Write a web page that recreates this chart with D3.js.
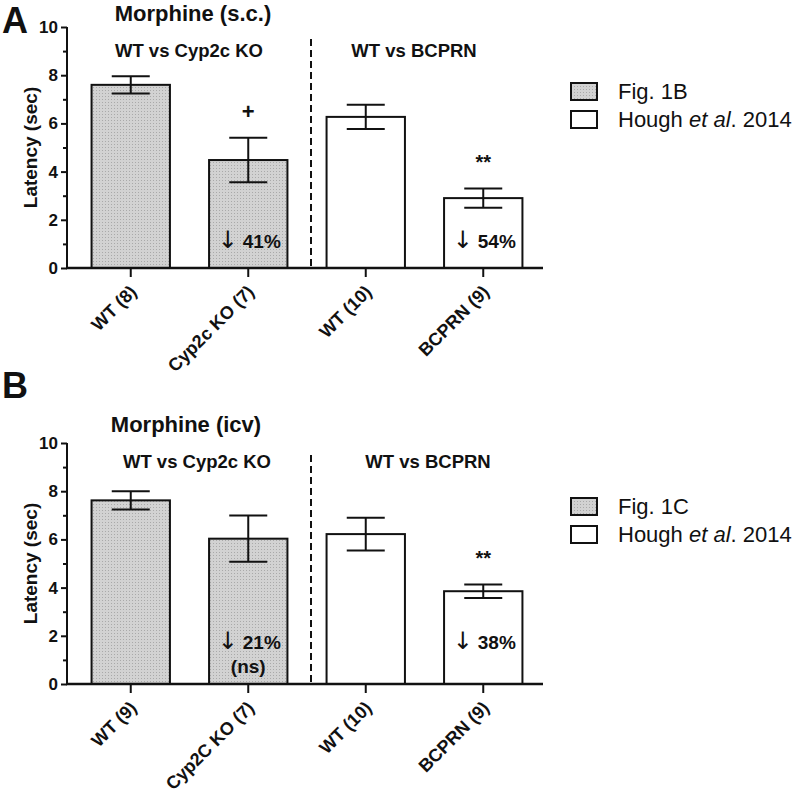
<!DOCTYPE html>
<html>
<head>
<meta charset="utf-8">
<script src="https://cdn.jsdelivr.net/npm/d3@7"></script>
<style>
  body { margin: 0; background: #fff; }
  svg { font-family: "Liberation Sans", Arial, sans-serif; }
  text { fill: #111; }
</style>
</head>
<body>
<svg id="chart" width="800" height="790"></svg>
<script>
// ---- data ----
const groupsA = ["WT (8)", "Cyp2c KO (7)", "WT (10)", "BCPRN (9)"];
const meansA = [7.6, 4.48, 6.27, 2.9];
const semA = [0.36, 0.92, 0.5, 0.4];
const notesA = ["", "+", "", "**"];
const dropsA = ["", "41%", "", "54%"];

const groupsB = ["WT (9)", "Cyp2C KO (7)", "WT (10)", "BCPRN (9)"];
const meansB = [7.62, 6.03, 6.22, 3.85];
const semB = [0.38, 0.96, 0.68, 0.28];
const notesB = ["", "", "", "**"];
const dropsB = ["", "21%", "", "38%"];

const source = ["fig", "fig", "hough", "hough"];   // fill per bar
const yTicks = [0, 2, 4, 6, 8, 10];
const yMinor = [1, 3, 5, 7, 9];

const svg = d3.select("#chart");

// stippled grey fill like the original
const pat = svg.append("defs").append("pattern")
  .attr("id", "stip").attr("width", 3).attr("height", 3)
  .attr("patternUnits", "userSpaceOnUse");
pat.append("rect").attr("width", 3).attr("height", 3).attr("fill", "#d2d2d2");
pat.append("rect").attr("width", 1).attr("height", 1).attr("fill", "#a9a9a9");

function fillOf(s) { return s === "fig" ? "url(#stip)" : "#fff"; }

function drawPanel(p) {
  const g = svg.append("g");
  const x = d3.scaleBand().domain(p.groups).range([72, 542])
    .paddingInner(0.333).paddingOuter(0.1665);
  const y = d3.scaleLinear().domain([0, 10]).range([p.y0, p.y0 - 241]);
  const cx = k => x(k) + x.bandwidth() / 2;
  const data = p.groups.map((k, i) => ({ k, m: p.means[i], e: p.sem[i], s: source[i], note: p.notes[i], drop: p.drops[i] }));

  // panel letter + title
  g.append("text").attr("x", 2).attr("y", p.letterY)
    .attr("font-size", 36).attr("font-weight", "bold").text(p.letter);
  g.append("text").attr("x", p.titleX).attr("y", p.titleY).attr("text-anchor", "middle")
    .attr("font-size", 22).attr("font-weight", "bold").text(p.title);

  // bars
  g.selectAll("rect.bar").data(data).join("rect")
    .attr("class", "bar")
    .attr("x", d => x(d.k)).attr("width", x.bandwidth())
    .attr("y", d => y(d.m)).attr("height", d => y(0) - y(d.m))
    .attr("fill", d => fillOf(d.s))
    .attr("stroke", "#111").attr("stroke-width", 2);

  // error bars
  const cap = 19;
  const eb = g.selectAll("g.err").data(data).join("g").attr("class", "err")
    .attr("stroke", "#111").attr("stroke-width", 2);
  eb.append("line")
    .attr("x1", d => cx(d.k)).attr("x2", d => cx(d.k))
    .attr("y1", d => y(d.m - d.e)).attr("y2", d => y(d.m + d.e));
  eb.append("line")
    .attr("x1", d => cx(d.k) - cap).attr("x2", d => cx(d.k) + cap)
    .attr("y1", d => y(d.m + d.e)).attr("y2", d => y(d.m + d.e));
  eb.append("line")
    .attr("x1", d => cx(d.k) - cap).attr("x2", d => cx(d.k) + cap)
    .attr("y1", d => y(d.m - d.e)).attr("y2", d => y(d.m - d.e));

  // significance marks
  g.selectAll("text.note").data(data.filter(d => d.note)).join("text")
    .attr("class", "note")
    .attr("x", d => cx(d.k))
    .attr("y", d => y(d.m + d.e) - 19)
    .attr("text-anchor", "middle").attr("font-weight", "bold")
    .attr("font-size", d => d.note === "+" ? 22 : 20)
    .text(d => d.note);

  // percentage drop inside the bars
  const dt = g.selectAll("text.drop").data(data.filter(d => d.drop)).join("text")
    .attr("class", "drop")
    .attr("x", d => cx(d.k) + 1)
    .attr("y", y(0) - p.dropDy)
    .attr("text-anchor", "middle").attr("font-weight", "bold").attr("font-size", 19);
  dt.append("tspan").attr("font-family", "DejaVu Sans").attr("font-weight", "normal")
    .attr("font-size", 24).text("↓");
  dt.append("tspan").attr("dx", 5).text(d => d.drop);
  if (p.ns) {
    g.append("text").attr("x", cx(p.groups[1])).attr("y", y(0) - 11)
      .attr("text-anchor", "middle").attr("font-weight", "bold").attr("font-size", 19)
      .text(p.ns);
  }

  // y axis
  const yAxis = g.append("g").attr("transform", "translate(67,0)")
    .call(d3.axisLeft(y).tickValues(yTicks).tickSize(6).tickPadding(3));
  yAxis.selectAll("text").attr("font-size", 17).attr("font-weight", "bold").attr("fill", "#111")
    .style("font-family", "Liberation Sans, Arial, sans-serif");
  yAxis.selectAll("line, path").attr("stroke", "#111").attr("stroke-width", 2);
  yAxis.select("path").attr("d", `M0,${y(10)}V${y(0)}`);
  g.append("g").attr("transform", "translate(67,0)")
    .call(d3.axisLeft(y).tickValues(yMinor).tickSize(4).tickFormat(""))
    .call(a => a.select("path").remove())
    .selectAll("line").attr("stroke", "#111").attr("stroke-width", 2);

  g.append("text")
    .attr("transform", `translate(30,${(y(0) + y(10)) / 2}) rotate(-90)`)
    .attr("text-anchor", "middle").attr("dy", "0.35em")
    .attr("font-size", 19).attr("font-weight", "bold").text("Latency (sec)");

  // x axis
  const xAxis = g.append("g").attr("transform", `translate(0,${y(0)})`)
    .call(d3.axisBottom(x).tickSize(9).tickFormat(""));
  xAxis.select("path").attr("d", "M66,0H543").attr("stroke", "#111").attr("stroke-width", 2.5);
  xAxis.selectAll("line").attr("stroke", "#111").attr("stroke-width", 2);

  g.selectAll("text.xl").data(p.groups).join("text")
    .attr("class", "xl")
    .attr("transform", d => `translate(${cx(d) + 7},${y(0) + 25}) rotate(-45)`)
    .attr("text-anchor", "end").attr("font-size", 18).attr("font-weight", "bold")
    .text(d => d);

  // divider between comparisons
  g.append("line").attr("x1", 311).attr("x2", 311)
    .attr("y1", y(10) + p.dashTop).attr("y2", y(0))
    .attr("stroke", "#111").attr("stroke-width", 2).attr("stroke-dasharray", "7,4");

  // comparison headings
  p.heads.forEach((h, i) => {
    g.append("text").attr("x", p.headX[i]).attr("y", y(10) + p.headDy)
      .attr("text-anchor", "middle").attr("font-size", 18.5).attr("font-weight", "bold").text(h);
  });

  // legend
  const lg = g.append("g").attr("transform", `translate(571,${p.legY})`);
  [["fig", p.legend], ["hough", null]].forEach((row, i) => {
    lg.append("rect").attr("x", 0).attr("y", i * 28).attr("width", 26).attr("height", 17)
      .attr("fill", fillOf(row[0])).attr("stroke", "#111").attr("stroke-width", 2);
    const t = lg.append("text").attr("x", 47).attr("y", i * 28 + 15.5).attr("font-size", 22);
    if (row[1]) t.text(row[1]);
    else {
      t.append("tspan").text("Hough ");
      t.append("tspan").attr("font-style", "italic").text("et al");
      t.append("tspan").text(". 2014");
    }
  });
}

drawPanel({
  letter: "A", letterY: 33, title: "Morphine (s.c.)", titleX: 193, titleY: 21,
  groups: groupsA, means: meansA, sem: semA, notes: notesA, drops: dropsA, dropDy: 20,
  y0: 268, heads: ["WT vs Cyp2c KO", "WT vs BCPRN"], headX: [189, 414], headDy: 30,
  dashTop: 12, legend: "Fig. 1B", legY: 83
});
drawPanel({
  letter: "B", letterY: 398, title: "Morphine (icv)", titleX: 186, titleY: 432,
  groups: groupsB, means: meansB, sem: semB, notes: notesB, drops: dropsB, dropDy: 35, ns: "(ns)",
  y0: 684, heads: ["WT vs Cyp2c KO", "WT vs BCPRN"], headX: [197, 428], headDy: 25,
  dashTop: 12, legend: "Fig. 1C", legY: 498
});
</script>
</body>
</html>
